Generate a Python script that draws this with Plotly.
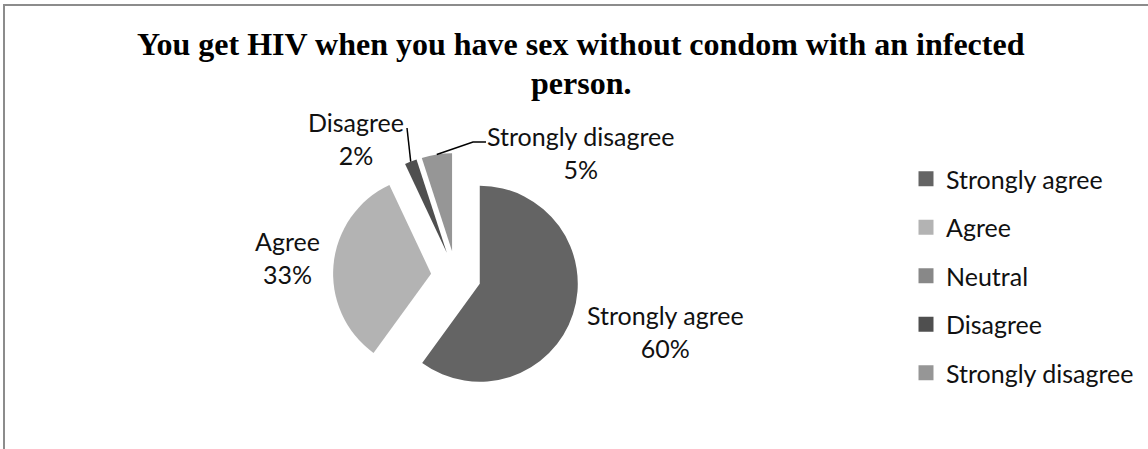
import math
import plotly.graph_objects as go

# Survey responses (percent of respondents)
categories = ["Strongly agree", "Agree", "Neutral", "Disagree", "Strongly disagree"]
percentages = [60, 33, 0, 2, 5]
slice_colors = ["#646464", "#b3b3b3", "#888888", "#4f4f4f", "#969696"]

TITLE_LINES = ["You get HIV when you have sex without condom with an infected", "person."]

# Canvas and pie geometry (pixels, origin top-left)
W, H = 1148, 449
PIE_CX, PIE_CY = 456, 276
PIE_HALF = 123          # half of the pie's domain box
PULL = 0.255            # every slice is exploded by the same amount
R = PIE_HALF / (1 + PULL)

LABEL_FONT = dict(family="Lato", size=25, color="#111111")
TITLE_FONT = dict(family="Liberation Serif", size=32, color="#000000", weight="bold")

# Where each data label sits (pixel centre of the text block)
label_pos = {
    "Strongly agree": (665, 331),
    "Agree": (287, 257),
    "Disagree": (356, 138),
    "Strongly disagree": (581, 152),
}
# Leader lines: end points next to the label text (the other end is the slice rim)
leader_ends = {
    "Disagree": [(407, 128)],
    "Strongly disagree": [(473, 142), (486, 142)],
}


def px(x, y):
    return x / W, 1 - y / H


total = sum(percentages)
cum = 0
mid_angle = {}
for cat, v in zip(categories, percentages):
    mid_angle[cat] = 360.0 * (cum + v / 2) / total
    cum += v


def rim_point(cat):
    a = math.radians(mid_angle[cat])
    d = R * (1 + PULL)
    return PIE_CX + d * math.sin(a), PIE_CY - d * math.cos(a)


fig = go.Figure()

dx0, dy1 = px(PIE_CX - PIE_HALF, PIE_CY - PIE_HALF)
dx1, dy0 = px(PIE_CX + PIE_HALF, PIE_CY + PIE_HALF)
fig.add_trace(go.Pie(
    labels=categories,
    values=percentages,
    marker=dict(colors=slice_colors, line=dict(width=0)),
    pull=[PULL] * len(categories),
    sort=False,
    direction="clockwise",
    rotation=0,
    textinfo="none",
    showlegend=False,
    domain=dict(x=[dx0, dx1], y=[dy0, dy1]),
))

# Legend entries
for cat, col in zip(categories, slice_colors):
    fig.add_trace(go.Scatter(
        x=[None], y=[None], mode="markers", name=cat, legendgroup=cat,
        marker=dict(symbol="square", size=15, color=col),
    ))

annotations = []
# Two-line title, each line placed on its own
for line, yc in zip(TITLE_LINES, (44, 83)):
    x, y = px(581, yc)
    annotations.append(dict(
        x=x, y=y, xref="paper", yref="paper", text=line, showarrow=False,
        xanchor="center", yanchor="middle", font=TITLE_FONT,
    ))

for cat, v in zip(categories, percentages):
    if cat not in label_pos:
        continue
    x, y = px(*label_pos[cat])
    annotations.append(dict(
        x=x, y=y, xref="paper", yref="paper", text=f"{cat}<br>{v}%",
        showarrow=False, xanchor="center", yanchor="middle", font=LABEL_FONT,
    ))

shapes = []
for cat, ends in leader_ends.items():
    pts = [rim_point(cat)] + ends
    path = "M " + " L ".join("{:.5f},{:.5f}".format(*px(x, y)) for x, y in pts)
    shapes.append(dict(type="path", xref="paper", yref="paper", path=path,
                       line=dict(color="#000000", width=1.5)))

# Chart frame (left and top edges)
fx, fy = px(4, 5)
shapes.append(dict(type="path", xref="paper", yref="paper",
                   path=f"M {fx},-0.05 L {fx},{fy} L 1.05,{fy}",
                   line=dict(color="#8c8c8c", width=2)))

fig.update_layout(
    width=W, height=H,
    margin=dict(l=0, r=0, t=0, b=0),
    paper_bgcolor="white", plot_bgcolor="white",
    xaxis=dict(visible=False), yaxis=dict(visible=False),
    legend=dict(x=906 / W, y=1 - 156 / H, xanchor="left", yanchor="top",
                traceorder="grouped", tracegroupgap=13, font=LABEL_FONT,
                bgcolor="rgba(0,0,0,0)", itemsizing="trace"),
    annotations=annotations,
    shapes=shapes,
    showlegend=True,
)

fig.write_html("out.html")
